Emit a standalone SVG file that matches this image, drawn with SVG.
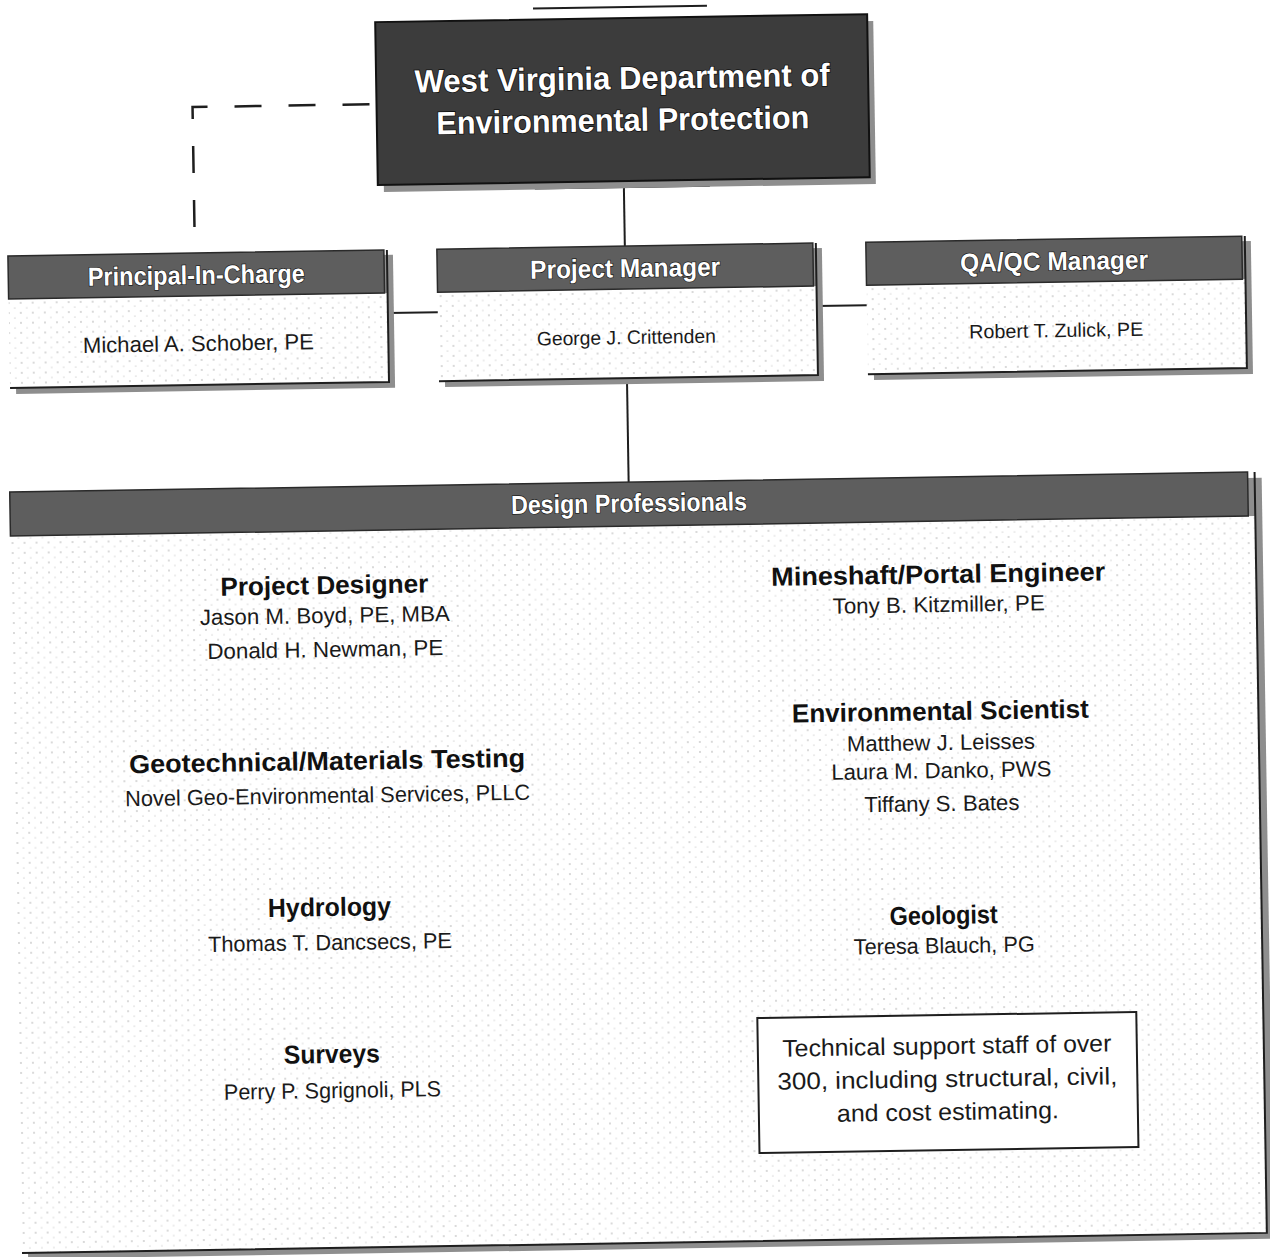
<svg xmlns="http://www.w3.org/2000/svg" width="1270" height="1257" viewBox="0 0 1270 1257">
<style>
.hdr{fill:#5e5e5e;stroke:#2a2a2a;stroke-width:1.5}
.shadow{fill:#8e8e8e}
.body{fill:url(#dots)}
.edge{stroke:#1e1e1e;stroke-width:2;fill:none}
.conn{stroke:#1e1e1e;stroke-width:2;fill:none}
.dash{stroke:#1e1e1e;stroke-width:2.5;fill:none;stroke-dasharray:27 27}
.htxt{font-family:"Liberation Sans",Arial,sans-serif;font-weight:bold;font-size:26px;fill:#fff;stroke:#1a1a1a;stroke-width:1.4;paint-order:stroke;text-anchor:middle}
.ttxt{font-family:"Liberation Sans",Arial,sans-serif;font-weight:bold;font-size:32px;fill:#fff;stroke:#111;stroke-width:1.6;paint-order:stroke;text-anchor:middle}
.title{font-family:"Liberation Sans",Arial,sans-serif;font-weight:bold;font-size:26px;fill:#111;text-anchor:middle}
.name{font-family:"Liberation Sans",Arial,sans-serif;font-size:22px;fill:#1a1a1a;text-anchor:middle}
.small{font-size:19.5px}
.tech{font-family:"Liberation Sans",Arial,sans-serif;font-size:24px;fill:#1a1a1a;text-anchor:middle}
</style>
<defs>
<pattern id="dots" width="12" height="10" patternUnits="userSpaceOnUse">
<rect width="12" height="10" fill="#fff"/>
<circle cx="2" cy="3" r="0.7" fill="#9a9a9a"/>
<circle cx="8" cy="8" r="0.6" fill="#b0b0b0"/>
</pattern>
</defs>
<rect width="1270" height="1257" fill="#fff"/>
<g transform="rotate(-0.925 635 628)">
<g id="connectors">
<path class="dash" d="M378,100 H201 V223"/>
<line class="conn" x1="631" y1="188" x2="631" y2="246"/>
<line class="conn" x1="393" y1="309" x2="443" y2="309"/>
<line class="conn" x1="822" y1="309" x2="872" y2="309"/>
<line class="conn" x1="631" y1="378" x2="631" y2="482"/>
<line class="conn" x1="543" y1="7" x2="717" y2="7"/>
<line class="conn" x1="542" y1="187" x2="717" y2="187"/>
</g>
<g id="wvdep">
<rect class="shadow" x="391" y="25" width="492" height="163"/>
<rect x="385" y="18" width="492" height="163" fill="#3c3c3c" stroke="#111" stroke-width="2"/>
<text class="ttxt" x="631" y="89" textLength="415" lengthAdjust="spacingAndGlyphs">West Virginia Department of</text>
<text class="ttxt" x="631" y="131" textLength="373" lengthAdjust="spacingAndGlyphs">Environmental Protection</text>
</g>
<g id="principal">
<rect class="shadow" x="20" y="251" width="379" height="133"/>
<rect class="body" x="14" y="289" width="379" height="89"/>
<rect class="hdr" x="14" y="246" width="376" height="43"/>
<path class="edge" d="M393,246 V378 H14"/>
<text class="htxt" x="202" y="277" textLength="217" lengthAdjust="spacingAndGlyphs">Principal-In-Charge</text>
<text class="name" x="203" y="344" textLength="231" lengthAdjust="spacingAndGlyphs">Michael A. Schober, PE</text>
</g>
<g id="pm">
<rect class="shadow" x="449" y="251" width="379" height="133"/>
<rect class="body" x="443" y="289" width="379" height="89"/>
<rect class="hdr" x="443" y="246" width="376" height="43"/>
<path class="edge" d="M822,246 V378 H443"/>
<text class="htxt" x="631" y="277" textLength="190" lengthAdjust="spacingAndGlyphs">Project Manager</text>
<text class="name small" x="631" y="344" textLength="179" lengthAdjust="spacingAndGlyphs">George J. Crittenden</text>
</g>
<g id="qaqc">
<rect class="shadow" x="878" y="251" width="379" height="133"/>
<rect class="body" x="872" y="289" width="379" height="89"/>
<rect class="hdr" x="872" y="246" width="376" height="43"/>
<path class="edge" d="M1251,246 V378 H872"/>
<text class="htxt" x="1060" y="277" textLength="188" lengthAdjust="spacingAndGlyphs">QA/QC Manager</text>
<text class="name small" x="1061" y="344" textLength="174" lengthAdjust="spacingAndGlyphs">Robert T. Zulick, PE</text>
</g>
<g id="design">
<rect class="shadow" x="18" y="488" width="1246" height="761"/>
<rect class="body" x="12" y="526" width="1245" height="717"/>
<rect class="hdr" x="12" y="482" width="1238" height="44"/>
<path class="edge" d="M1257,482 V1243 H12"/>
<text class="htxt" x="631" y="512" textLength="236" lengthAdjust="spacingAndGlyphs">Design Professionals</text>
</g>
<g id="projdesigner">
<text class="title" x="325" y="589" textLength="208" lengthAdjust="spacingAndGlyphs">Project Designer</text>
<text class="name" x="325" y="618" textLength="250" lengthAdjust="spacingAndGlyphs">Jason M. Boyd, PE, MBA</text>
<text class="name" x="325" y="652" textLength="236" lengthAdjust="spacingAndGlyphs">Donald H. Newman, PE</text>
</g>
<g id="geotech">
<text class="title" x="325" y="765" textLength="396" lengthAdjust="spacingAndGlyphs">Geotechnical/Materials Testing</text>
<text class="name" x="325" y="798" textLength="405" lengthAdjust="spacingAndGlyphs">Novel Geo-Environmental Services, PLLC</text>
</g>
<g id="hydrology">
<text class="title" x="325" y="911" textLength="123" lengthAdjust="spacingAndGlyphs">Hydrology</text>
<text class="name" x="325" y="945" textLength="244" lengthAdjust="spacingAndGlyphs">Thomas T. Dancsecs, PE</text>
</g>
<g id="surveys">
<text class="title" x="325" y="1058" textLength="96" lengthAdjust="spacingAndGlyphs">Surveys</text>
<text class="name" x="325" y="1093" textLength="217" lengthAdjust="spacingAndGlyphs">Perry P. Sgrignoli, PLS</text>
</g>
<g id="mineshaft">
<text class="title" x="939" y="588" textLength="334" lengthAdjust="spacingAndGlyphs">Mineshaft/Portal Engineer</text>
<text class="name" x="939" y="617" textLength="212" lengthAdjust="spacingAndGlyphs">Tony B. Kitzmiller, PE</text>
</g>
<g id="envsci">
<text class="title" x="939" y="725" textLength="297" lengthAdjust="spacingAndGlyphs">Environmental Scientist</text>
<text class="name" x="939" y="755" textLength="188" lengthAdjust="spacingAndGlyphs">Matthew J. Leisses</text>
<text class="name" x="939" y="783" textLength="220" lengthAdjust="spacingAndGlyphs">Laura M. Danko, PWS</text>
<text class="name" x="939" y="816" textLength="155" lengthAdjust="spacingAndGlyphs">Tiffany S. Bates</text>
</g>
<g id="geologist">
<text class="title" x="939" y="929" textLength="108" lengthAdjust="spacingAndGlyphs">Geologist</text>
<text class="name" x="939" y="958" textLength="181" lengthAdjust="spacingAndGlyphs">Teresa Blauch, PG</text>
</g>
<g id="techsupport">
<rect x="751" y="1020" width="379" height="135" fill="#fff" stroke="#1e1e1e" stroke-width="2"/>
<text class="tech" x="940" y="1059" textLength="329" lengthAdjust="spacingAndGlyphs">Technical support staff of over</text>
<text class="tech" x="940" y="1092" textLength="340" lengthAdjust="spacingAndGlyphs">300, including structural, civil,</text>
<text class="tech" x="940" y="1125" textLength="222" lengthAdjust="spacingAndGlyphs">and cost estimating.</text>
</g>
</g>
</svg>
